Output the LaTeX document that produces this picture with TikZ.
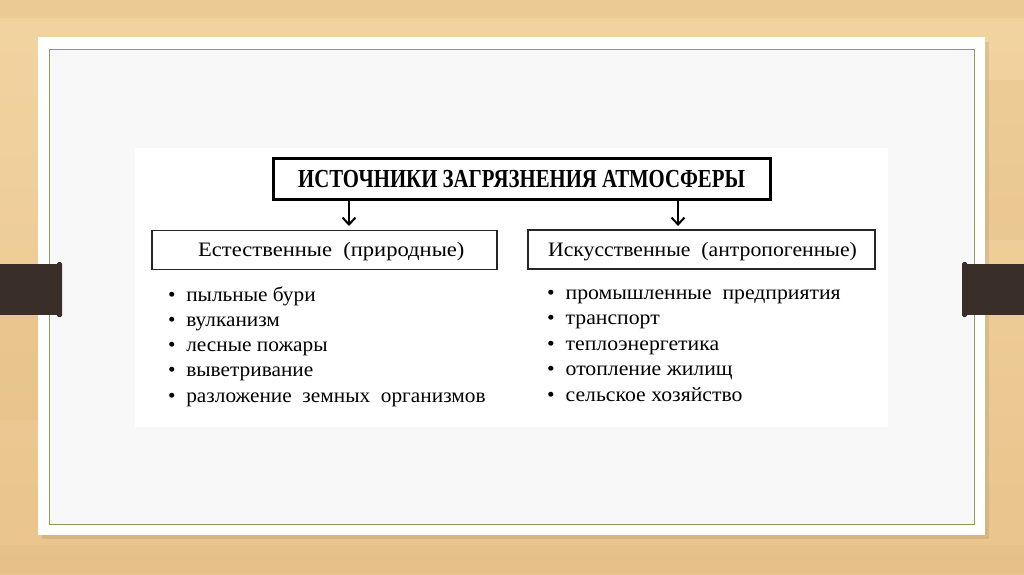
\documentclass[tikz,border=0pt]{standalone}
\usepackage{fontspec}
\setmainfont{Liberation Serif}
\usetikzlibrary{arrows.meta}
\definecolor{woodA}{RGB}{242,212,160}
\definecolor{woodB}{RGB}{233,196,140}
\definecolor{woodC}{RGB}{226,186,128}
\definecolor{cardin}{RGB}{248,248,248}
\definecolor{greenline}{RGB}{140,155,85}
\definecolor{barcol}{RGB}{58,46,40}
\newcommand{\wide}[2]{\scalebox{#1}[1]{#2}}
\tikzset{
  titlebox/.style={draw=black, line width=3pt, fill=white, minimum width=497pt, minimum height=41pt, inner sep=0pt, font=\fontsize{26}{28}\selectfont\bfseries},
  catbox/.style={draw=black!85, line width=1.2pt, fill=white, minimum height=39pt, inner sep=0pt},
  cattext/.style={inner sep=0pt, font=\fontsize{20.5}{24}\selectfont},
  item/.style={anchor=base west, inner sep=0pt, font=\fontsize{20.5}{24}\selectfont},
  down/.style={line width=2pt, -{Straight Barb[length=7pt,width=13pt,line width=2pt]}},
  bar/.style={fill=barcol, draw=none}
}
\begin{document}
\begin{tikzpicture}[x=1pt,y=-1pt]
\useasboundingbox (0,0) rectangle (1024,574);
% wood background
\shade[top color=woodA, bottom color=woodB] (0,0) rectangle (1024,574);
\fill[woodC, opacity=0.35] (0,0) rectangle (1024,18);
\fill[woodC, opacity=0.25] (0,300) rectangle (40,420);
\fill[woodC, opacity=0.25] (985,80) rectangle (1024,240);
\fill[woodC, opacity=0.3] (0,545) rectangle (1024,574);
% card shadow
\fill[black, opacity=0.08] (42,42) rectangle (989,539);
% card
\fill[white] (38,37) rectangle (985,535);
\fill[cardin] (49,49) rectangle (974,524);
\draw[greenline, line width=1pt] (49,49) rectangle (974,524);
% side bars
\fill[bar] (0,264) rectangle (60,315);
\fill[bar, rounded corners=1.5pt] (57,262) rectangle (62,317);
\fill[bar] (964,264) rectangle (1024,315);
\fill[bar, rounded corners=1.5pt] (962,262) rectangle (967,317);
% diagram area
\fill[white] (135,148) rectangle (888,427);
% nodes
\node[titlebox] (title) at (521.5,179) {\wide{0.8}{ИСТОЧНИКИ ЗАГРЯЗНЕНИЯ АТМОСФЕРЫ}};
\node[catbox, minimum width=345pt] (nat) at (324.5,250) {};
\node[catbox, minimum width=347pt] (art) at (701.5,249.5) {};
\node[cattext, anchor=base west] (natt) at (198,256) {\wide{1.1}{Естественные\ \ (природные)}};
\node[cattext, anchor=base] (artt) at (702.5,256) {\wide{1.06}{Искусственные\ \ (антропогенные)}};
% arrows
\coordinate (a1) at (349,200);
\coordinate (a2) at (678,200);
\coordinate (b1) at (349,226);
\coordinate (b2) at (678,226);
\draw[down] (a1) -- (b1);
\draw[down] (a2) -- (b2);
% lists
\node[item] (n1) at (168,301) {\wide{1.04}{•\ \ пыльные\ бури}};
\node[item] (n2) at (168,326) {\wide{1.04}{•\ \ вулканизм}};
\node[item] (n3) at (168,351) {\wide{1.04}{•\ \ лесные\ пожары}};
\node[item] (n4) at (168,376) {\wide{1.04}{•\ \ выветривание}};
\node[item] (n5) at (168,402) {\wide{1.04}{•\ \ разложение\ \ земных\ \ организмов}};
\node[item] (r1) at (547,299) {\wide{1.06}{•\ \ промышленные\ \ предприятия}};
\node[item] (r2) at (547,324) {\wide{1.06}{•\ \ транспорт}};
\node[item] (r3) at (547,350) {\wide{1.06}{•\ \ теплоэнергетика}};
\node[item] (r4) at (547,375) {\wide{1.06}{•\ \ отопление\ жилищ}};
\node[item] (r5) at (547,401) {\wide{1.06}{•\ \ сельское\ хозяйство}};
\end{tikzpicture}
\end{document}
